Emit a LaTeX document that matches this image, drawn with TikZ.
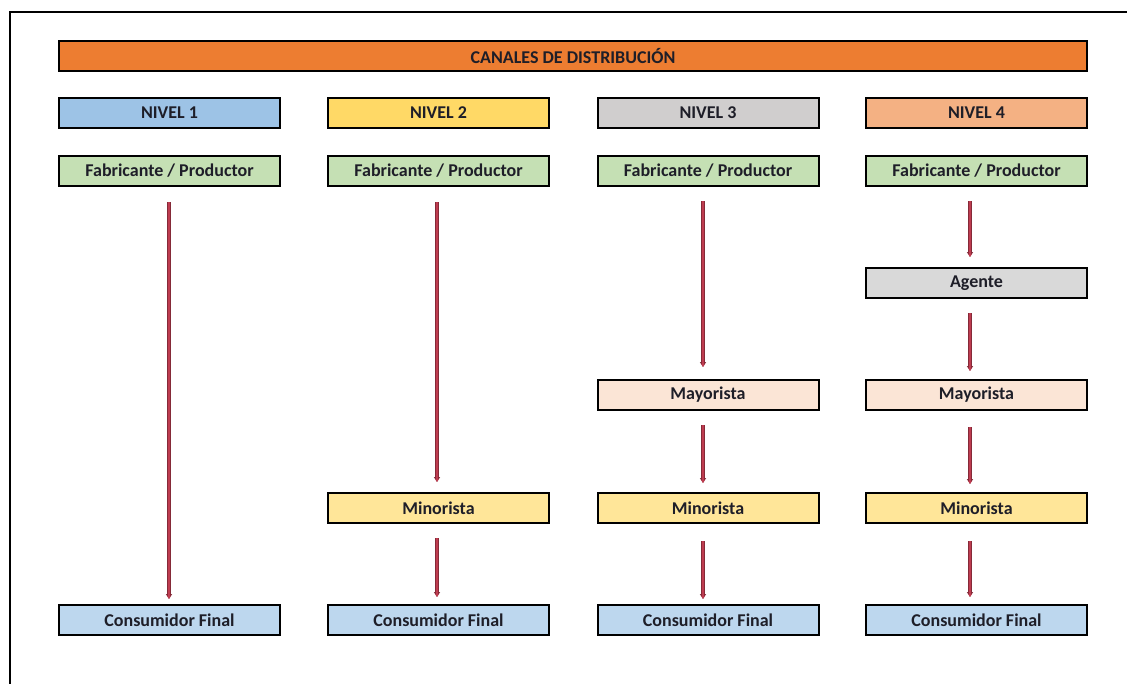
\documentclass[tikz,border=0pt]{standalone}
\usepackage{fontspec}
\setmainfont{Carlito}
\usetikzlibrary{arrows.meta}
\definecolor{ttl}{RGB}{237,125,49}
\definecolor{nv1}{RGB}{157,195,230}
\definecolor{nv2}{RGB}{255,217,102}
\definecolor{nv3}{RGB}{208,206,206}
\definecolor{nv4}{RGB}{244,177,131}
\definecolor{fab}{RGB}{197,224,180}
\definecolor{agt}{RGB}{217,217,217}
\definecolor{may}{RGB}{251,229,214}
\definecolor{mino}{RGB}{255,230,153}
\definecolor{cons}{RGB}{189,215,238}
\definecolor{arr}{RGB}{190,60,80}
\definecolor{txt}{RGB}{30,30,40}
\tikzset{
  box/.style={draw=black, line width=2pt, minimum width=221pt, minimum height=30pt, inner sep=0pt,
    font=\fontsize{18}{20}\selectfont\bfseries, text=txt, anchor=center},
  flow/.style={draw=arr!70!black, line width=4.2pt, -{Triangle[length=5pt,width=6pt]},
    postaction={draw=arr, line width=2.4pt, -{Triangle[length=3pt,width=3.4pt]}}},
}
\begin{document}
\begin{tikzpicture}[x=1pt,y=-1pt]
\useasboundingbox (0,0) rectangle (1127,683);
\fill[white] (0,0) rectangle (1127,683);
\draw[line width=2pt, black] (10,690) -- (10,12) -- (1130,12);
\node[box, fill=ttl, minimum width=1028pt] (title) at (573,56) {CANALES DE DISTRIBUCIÓN};
% column 1
\node[box, fill=nv1] (n1) at (169.5,113) {NIVEL 1};
\node[box, fill=fab] (f1) at (169.5,171) {Fabricante / Productor};
\node[box, fill=cons] (c1) at (169.5,620) {Consumidor Final};
% column 2
\node[box, fill=nv2] (n2) at (438.5,113) {NIVEL 2};
\node[box, fill=fab] (f2) at (438.5,171) {Fabricante / Productor};
\node[box, fill=mino] (m2) at (438.5,508) {Minorista};
\node[box, fill=cons] (c2) at (438.5,620) {Consumidor Final};
% column 3
\node[box, fill=nv3] (n3) at (708,113) {NIVEL 3};
\node[box, fill=fab] (f3) at (708,171) {Fabricante / Productor};
\node[box, fill=may] (y3) at (708,395) {Mayorista};
\node[box, fill=mino] (m3) at (708,508) {Minorista};
\node[box, fill=cons] (c3) at (708,620) {Consumidor Final};
% column 4
\node[box, fill=nv4] (n4) at (976.5,113) {NIVEL 4};
\node[box, fill=fab] (f4) at (976.5,171) {Fabricante / Productor};
\node[box, fill=agt] (a4) at (976.5,283) {Agente};
\node[box, fill=may] (y4) at (976.5,395) {Mayorista};
\node[box, fill=mino] (m4) at (976.5,508) {Minorista};
\node[box, fill=cons] (c4) at (976.5,620) {Consumidor Final};
% arrows
\draw[flow, shorten <=15pt, shorten >=5pt] ([xshift=-0.5pt]f1.south) -- ([xshift=-0.5pt]c1.north);
\draw[flow, shorten <=15pt, shorten >=10pt] ([xshift=-1.5pt]f2.south) -- ([xshift=-1.5pt]m2.north);
\draw[flow, shorten <=14pt, shorten >=7pt] ([xshift=-1.5pt]m2.south) -- ([xshift=-1.5pt]c2.north);
\draw[flow, shorten <=14pt, shorten >=12pt] ([xshift=-5pt]f3.south) -- ([xshift=-5pt]y3.north);
\draw[flow, shorten <=14pt, shorten >=9pt] ([xshift=-5pt]y3.south) -- ([xshift=-5pt]m3.north);
\draw[flow, shorten <=17pt, shorten >=5pt] ([xshift=-5pt]m3.south) -- ([xshift=-5pt]c3.north);
\draw[flow, shorten <=14pt, shorten >=10pt] ([xshift=-6.5pt]f4.south) -- ([xshift=-6.5pt]a4.north);
\draw[flow, shorten <=14pt, shorten >=8pt] ([xshift=-6.5pt]a4.south) -- ([xshift=-6.5pt]y4.north);
\draw[flow, shorten <=16pt, shorten >=8pt] ([xshift=-6.5pt]y4.south) -- ([xshift=-6.5pt]m4.north);
\draw[flow, shorten <=17pt, shorten >=7pt] ([xshift=-6.5pt]m4.south) -- ([xshift=-6.5pt]c4.north);
\end{tikzpicture}
\end{document}
